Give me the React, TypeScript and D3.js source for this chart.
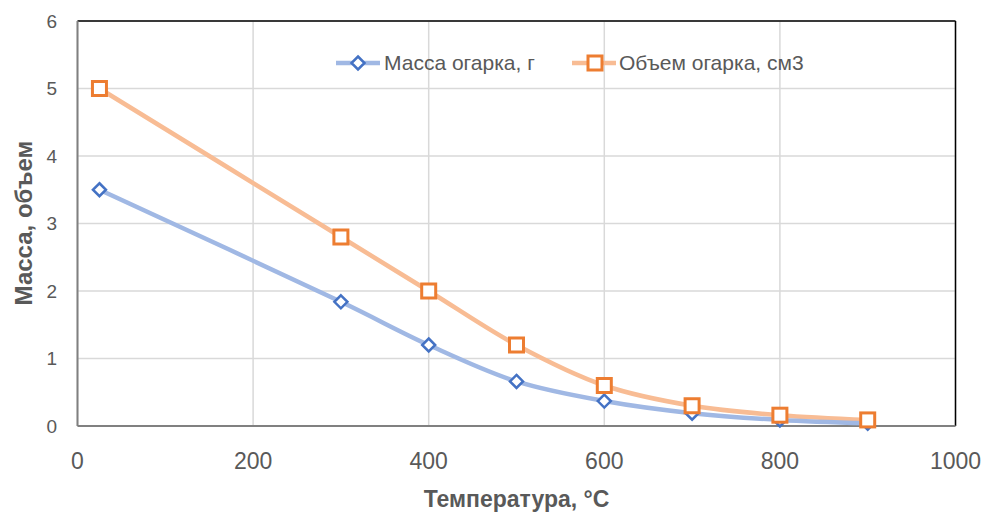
import React from "react";
import * as d3 from "d3";

const temps = [25, 300, 400, 500, 600, 700, 800, 900];
const massValues = [3.5, 1.84, 1.2, 0.66, 0.37, 0.19, 0.09, 0.04];
const volumeValues = [5.0, 2.8, 2.0, 1.2, 0.6, 0.3, 0.16, 0.09];
const xTicks = [0, 200, 400, 600, 800, 1000];
const yTicks = [0, 1, 2, 3, 4, 5, 6];
const seriesNames = ["Масса огарка, г", "Объем огарка, см3"];
const xTitle = "Температура, °C";
const yTitle = "Масса, объем";

const W = 984;
const H = 514;
const left = 77.5;
const right = 955.5;
const top = 21;
const bottom = 426;
const FONT = "'Liberation Sans', Arial, sans-serif";

export default function App() {
  const x = d3.scaleLinear().domain([0, 1000]).range([left, right]);
  const y = d3.scaleLinear().domain([0, 6]).range([bottom, top]);
  const line = d3
    .line<number>()
    .x((_, i) => x(temps[i]))
    .y((d) => y(d))
    .curve(d3.curveCatmullRom.alpha(0.5));

  const diamond = (cx: number, cy: number, r: number) =>
    `M${cx},${cy - r}L${cx + r},${cy}L${cx},${cy + r}L${cx - r},${cy}Z`;

  return (
    <svg
      width={W}
      height={H}
      style={{ position: "absolute", left: 0, top: 0, background: "#fff" }}
      fontFamily={FONT}
    >
      <rect x={0} y={0} width={W} height={H} fill="#fff" />
      {/* gridlines */}
      {yTicks.map((t) => (
        <line key={"gy" + t} x1={left} x2={right} y1={y(t)} y2={y(t)} stroke="#d9d9d9" strokeWidth={1.5} />
      ))}
      {xTicks.map((t) => (
        <line key={"gx" + t} x1={x(t)} x2={x(t)} y1={top} y2={bottom} stroke="#d9d9d9" strokeWidth={1.5} />
      ))}
      {/* plot border */}
      <line x1={left} x2={right} y1={top} y2={top} stroke="#000" strokeWidth={1.5} />
      <line x1={right} x2={right} y1={top} y2={bottom} stroke="#000" strokeWidth={1.5} />
      <line x1={left} x2={left} y1={top} y2={bottom} stroke="#808080" strokeWidth={2} />
      <line x1={left} x2={right} y1={bottom} y2={bottom} stroke="#808080" strokeWidth={2} />

      {/* tick labels */}
      {yTicks.map((t) => (
        <text key={"ly" + t} x={57} y={y(t)} dy="0.35em" textAnchor="end" fontSize={19} fill="#595959">
          {t}
        </text>
      ))}
      {xTicks.map((t) => (
        <text key={"lx" + t} x={x(t)} y={461} dy="0.35em" textAnchor="middle" fontSize={23} fill="#595959">
          {t}
        </text>
      ))}

      {/* axis titles */}
      <text x={(left + right) / 2} y={499} dy="0.35em" textAnchor="middle" fontSize={23} fontWeight="bold" fill="#595959">
        {xTitle}
      </text>
      <text
        transform={`translate(24,223) rotate(-90)`}
        dy="0.35em"
        textAnchor="middle"
        fontSize={24}
        fontWeight="bold"
        fill="#595959"
      >
        {yTitle}
      </text>

      {/* series lines */}
      <path d={line(volumeValues) || ""} fill="none" stroke="#F8BC94" strokeWidth={4.5} strokeLinejoin="round" />
      <path d={line(massValues) || ""} fill="none" stroke="#A0B8E4" strokeWidth={4.5} strokeLinejoin="round" />

      {/* markers */}
      {massValues.map((v, i) => (
        <path key={"m" + i} d={diamond(x(temps[i]), y(v), 6.5)} fill="#fff" stroke="#4472C4" strokeWidth={2.5} />
      ))}
      {volumeValues.map((v, i) => (
        <rect
          key={"v" + i}
          x={x(temps[i]) - 7}
          y={y(v) - 7}
          width={14}
          height={14}
          fill="#fff"
          stroke="#ED7D31"
          strokeWidth={3}
        />
      ))}

      {/* legend */}
      <line x1={336} x2={380} y1={63} y2={63} stroke="#A0B8E4" strokeWidth={4.5} />
      <path d={diamond(358, 63, 6.5)} fill="#fff" stroke="#4472C4" strokeWidth={2.5} />
      <text x={384} y={63} dy="0.35em" fontSize={21} fill="#595959">
        {seriesNames[0]}
      </text>
      <line x1={572} x2={616} y1={63} y2={63} stroke="#F8BC94" strokeWidth={4.5} />
      <rect x={588} y={56} width={14} height={14} fill="#fff" stroke="#ED7D31" strokeWidth={3} />
      <text x={619} y={63} dy="0.35em" fontSize={21} fill="#595959">
        {seriesNames[1]}
      </text>
    </svg>
  );
}
